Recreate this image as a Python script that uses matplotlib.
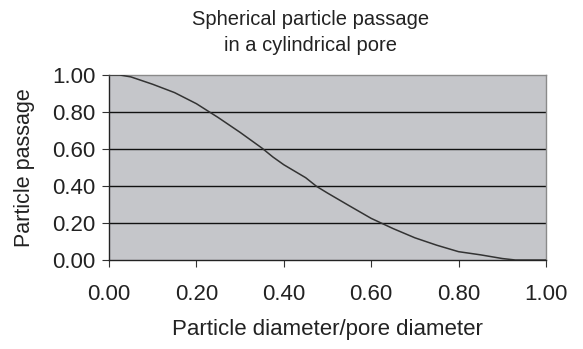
import matplotlib
matplotlib.use("Agg")
import matplotlib.pyplot as plt

# datos
ratio = [0.00, 0.025, 0.05, 0.10, 0.15, 0.20, 0.25, 0.30, 0.35, 0.375, 0.40,
         0.45, 0.475, 0.50, 0.55, 0.60, 0.65, 0.70, 0.75, 0.80, 0.85, 0.90,
         0.93, 0.95, 1.00]
passage = [1.00, 1.00, 0.99, 0.95, 0.905, 0.845, 0.77, 0.69, 0.605, 0.557, 0.515,
           0.445, 0.398, 0.362, 0.293, 0.225, 0.17, 0.12, 0.08, 0.045, 0.028, 0.008,
           0.0, 0.0, 0.0]
xticks = [0.0, 0.2, 0.4, 0.6, 0.8, 1.0]
yticks = [0.0, 0.2, 0.4, 0.6, 0.8, 1.0]

plt.rcParams["font.family"] = ["Liberation Sans", "DejaVu Sans"]

fig = plt.figure(figsize=(5.83, 3.49), dpi=100)
ax = fig.add_axes([0.187, 0.255, 0.7495, 0.53])
ax.set_facecolor("#c5c6ca")

for y in yticks[1:-1]:
    ax.axhline(y, color="#111111", lw=1.0, zorder=1)

ax.plot(ratio, passage, color="#333333", lw=1.1, zorder=3)

ax.set_xlim(0, 1)
ax.set_ylim(0, 1)
ax.set_xticks(xticks)
ax.set_yticks(yticks)
ax.set_xticklabels([f"{v:.2f}" for v in xticks])
ax.set_yticklabels([f"{v:.2f}" for v in yticks])
ax.tick_params(axis="x", direction="out", length=5, width=0.8, color="#333333",
               labelsize=16, pad=12, labelcolor="#222222")
ax.tick_params(axis="y", direction="out", length=5, width=0.8, color="#333333",
               labelsize=16, pad=5, labelcolor="#222222")

for s in ["left", "bottom"]:
    ax.spines[s].set_color("#222222")
    ax.spines[s].set_linewidth(1.0)
for s in ["top", "right"]:
    ax.spines[s].set_color("#8a8a8a")
    ax.spines[s].set_linewidth(1.0)

ax.set_xlabel("Particle diameter/pore diameter", fontsize=16, labelpad=10,
              color="#222222")
ax.set_ylabel("Particle passage", fontsize=15.5, labelpad=12, color="#222222")

fig.text(0.532, 0.972, "Spherical particle passage\nin a cylindrical pore",
         ha="center", va="top", fontsize=14.5, linespacing=1.45, color="#222222")

fig.savefig("out.png", dpi=100)
